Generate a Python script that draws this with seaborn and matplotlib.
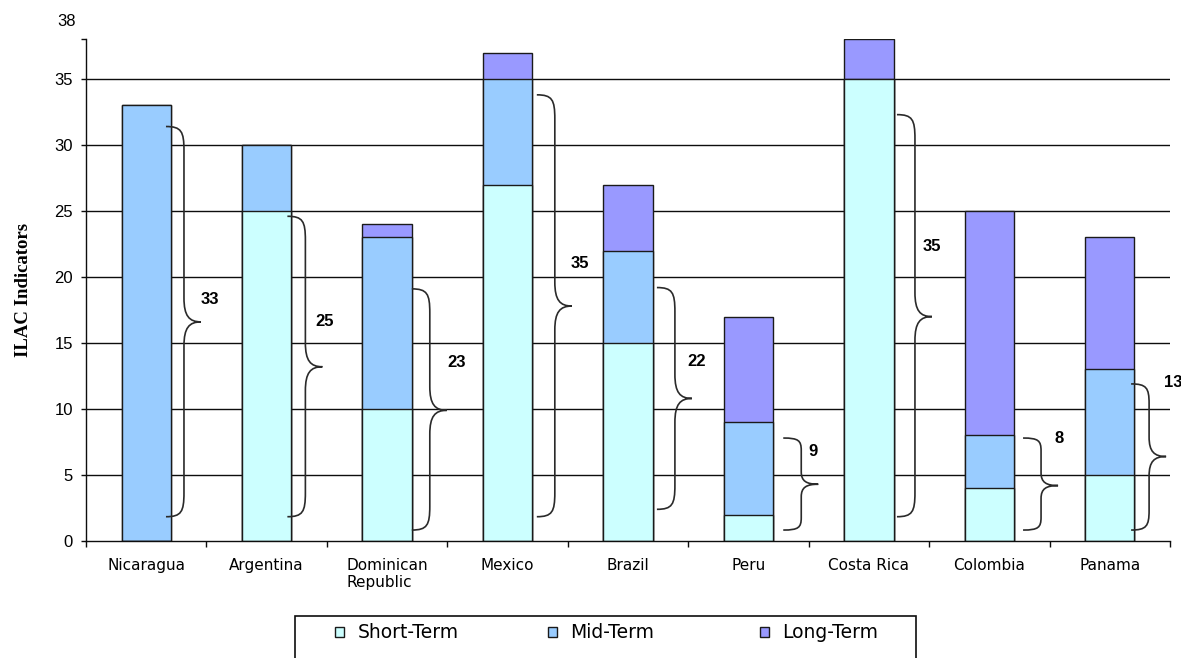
import numpy as np
import pandas as pd
import matplotlib
matplotlib.use("Agg")
import matplotlib.pyplot as plt
import matplotlib.transforms as mtransforms
from matplotlib.path import Path
from matplotlib.patches import PathPatch, Rectangle, Patch
import seaborn as sns

# ---------------- data ----------------
countries = ["Nicaragua", "Argentina", "Dominican\nRepublic", "Mexico", "Brazil",
             "Peru", "Costa Rica", "Colombia", "Panama"]
short_term = [0, 25, 10, 27, 15, 2, 35, 4, 5]
mid_term = [33, 5, 13, 8, 7, 7, 0, 4, 8]
long_term = [0, 0, 1, 2, 5, 8, 3, 17, 10]
series_names = ["Short-Term", "Mid-Term", "Long-Term"]
y_ticks = [0, 5, 10, 15, 20, 25, 30, 35, 38]

# brace annotations (value labels and the span they enclose)
brace_labels = ["33", "25", "23", "35", "22", "9", "35", "8", "13"]
brace_low = [1.84, 1.84, 0.83, 1.84, 2.4, 0.83, 1.84, 0.83, 0.83]
brace_high = [31.4, 24.6, 19.1, 33.8, 19.2, 7.8, 32.3, 7.8, 11.9]
brace_tip = [16.6, 13.2, 9.9, 17.8, 10.8, 4.3, 17.0, 4.2, 6.4]
label_y = [18.3, 16.6, 13.5, 21.0, 13.6, 6.8, 22.3, 7.8, 12.0]

# ---------------- styling/layout ----------------
colors = {"Short-Term": "#CCFFFF", "Mid-Term": "#99CCFF", "Long-Term": "#9999FF"}
edge = "#1a1a1a"
brace_x0 = [0.164, 0.172, 0.205, 0.243, 0.240, 0.289, 0.233, 0.280, 0.177]
label_dx = [0.53, 0.485, 0.573, 0.603, 0.572, 0.538, 0.524, 0.576, 0.528]

sns.set_theme(style="white")
plt.rcParams["font.family"] = ["DejaVu Sans"]
plt.rcParams["text.color"] = "black"
plt.rcParams["xtick.color"] = "black"
plt.rcParams["ytick.color"] = "black"
plt.rcParams["axes.labelcolor"] = "black"

W, H = 1181, 658
fig = plt.figure(figsize=(W / 100, H / 100), dpi=100)
ax = fig.add_axes([86 / W, 1 - 541 / H, (1170 - 86) / W, (541 - 39.4) / H])

df = pd.DataFrame({"country": countries, "short": short_term,
                   "mid": mid_term, "long": long_term})
df["short_mid"] = df["short"] + df["mid"]
df["total"] = df["short_mid"] + df["long"]

for col, name in [("total", "Long-Term"), ("short_mid", "Mid-Term"), ("short", "Short-Term")]:
    sns.barplot(data=df, x="country", y=col, order=countries, color=colors[name],
                saturation=1, width=0.41, edgecolor=edge, linewidth=1,
                errorbar=None, ax=ax, zorder=3)

ax.set_xlim(-0.5, 8.5)
ax.set_ylim(0, 38)
ax.set_xlabel("")

# grid
ax.set_axisbelow(True)
for v in y_ticks:
    if 0 < v < 38 and v % 5 == 0:
        ax.axhline(v, color="#0d0d0d", lw=1, zorder=1)

for s in ["top", "right"]:
    ax.spines[s].set_visible(False)
for s in ["left", "bottom"]:
    ax.spines[s].set_color("#0d0d0d")
    ax.spines[s].set_linewidth(1)
    ax.spines[s].set_zorder(4)

# y ticks
ax.set_yticks(y_ticks)
ax.set_yticklabels([str(v) for v in y_ticks], fontsize=12, family="Liberation Sans",
                   color="black")
ax.tick_params(axis="y", which="major", direction="out", length=3.5, width=1,
               color="#0d0d0d", pad=6, left=True)
for lbl in ax.get_yticklabels():
    if lbl.get_text() == "38":
        lbl.set_transform(lbl.get_transform() +
                          mtransforms.ScaledTranslation(0.03, 0.19, fig.dpi_scale_trans))

# x ticks
ax.set_xticks(range(len(countries)))
ax.set_xticklabels(countries, fontsize=11, multialignment="left", linespacing=1.2,
                   color="black")
ax.set_xticks(np.arange(-0.5, len(countries), 1.0), minor=True)
ax.tick_params(axis="x", which="major", length=0, pad=12)
ax.tick_params(axis="x", which="minor", direction="out", length=4, width=1,
               color="#0d0d0d", bottom=True)

ax.set_ylabel("ILAC Indicators", fontsize=13.5, fontweight="bold",
              family="Liberation Serif", color="black")
ax.yaxis.set_label_coords(-0.05, 0.5)

# braces
fig.canvas.draw()
pxx = ax.bbox.width / 9.0
pxy = ax.bbox.height / 38.0
for i in range(len(countries)):
    x0 = i + brace_x0[i]
    xv = x0 + 18 / pxx
    xt = x0 + 35 / pxx
    lo, hi, tip = brace_low[i], brace_high[i], brace_tip[i]
    r = min(24.0, (hi - tip) * pxy * 0.27) / pxy
    verts = [
        (x0, hi),
        (x0 + (xv - x0) * 0.85, hi), (xv, hi - r * 0.2), (xv, hi - r),
        (xv, tip + r),
        (xv, tip + r * 0.25), (xv + (xt - xv) * 0.3, tip), (xt, tip),
        (xv + (xt - xv) * 0.3, tip), (xv, tip - r * 0.25), (xv, tip - r),
        (xv, lo + r),
        (xv, lo + r * 0.2), (x0 + (xv - x0) * 0.85, lo), (x0, lo),
    ]
    codes = [Path.MOVETO,
             Path.CURVE4, Path.CURVE4, Path.CURVE4,
             Path.LINETO,
             Path.CURVE4, Path.CURVE4, Path.CURVE4,
             Path.CURVE4, Path.CURVE4, Path.CURVE4,
             Path.LINETO,
             Path.CURVE4, Path.CURVE4, Path.CURVE4]
    ax.add_patch(PathPatch(Path(verts, codes), facecolor="none", edgecolor="#2a2a2a",
                           lw=1.2, zorder=5, clip_on=False))
    ax.text(i + label_dx[i], label_y[i], brace_labels[i], ha="center", va="center",
            fontsize=12, fontweight="bold", family="Liberation Sans", color="black",
            zorder=6, clip_on=False)

# legend
fig.patches.append(Rectangle((295 / W, -0.05), (916 - 295) / W, 0.05 + 1 - 616 / H,
                             transform=fig.transFigure, facecolor="white",
                             edgecolor="#0d0d0d", lw=1.2, zorder=0))
marker_x = [335, 548, 760]
for name, mx in zip(series_names, marker_x):
    fig.legend(handles=[Patch(facecolor=colors[name], edgecolor="#1a1a1a", lw=1)],
               labels=[name], loc="center left",
               bbox_to_anchor=(mx / W, 1 - 633 / H), frameon=False,
               borderpad=0, borderaxespad=0, handlelength=0.5, handleheight=0.5,
               handletextpad=0.7, fontsize=13.5, labelcolor="black")

fig.savefig("out.png", dpi=100)
